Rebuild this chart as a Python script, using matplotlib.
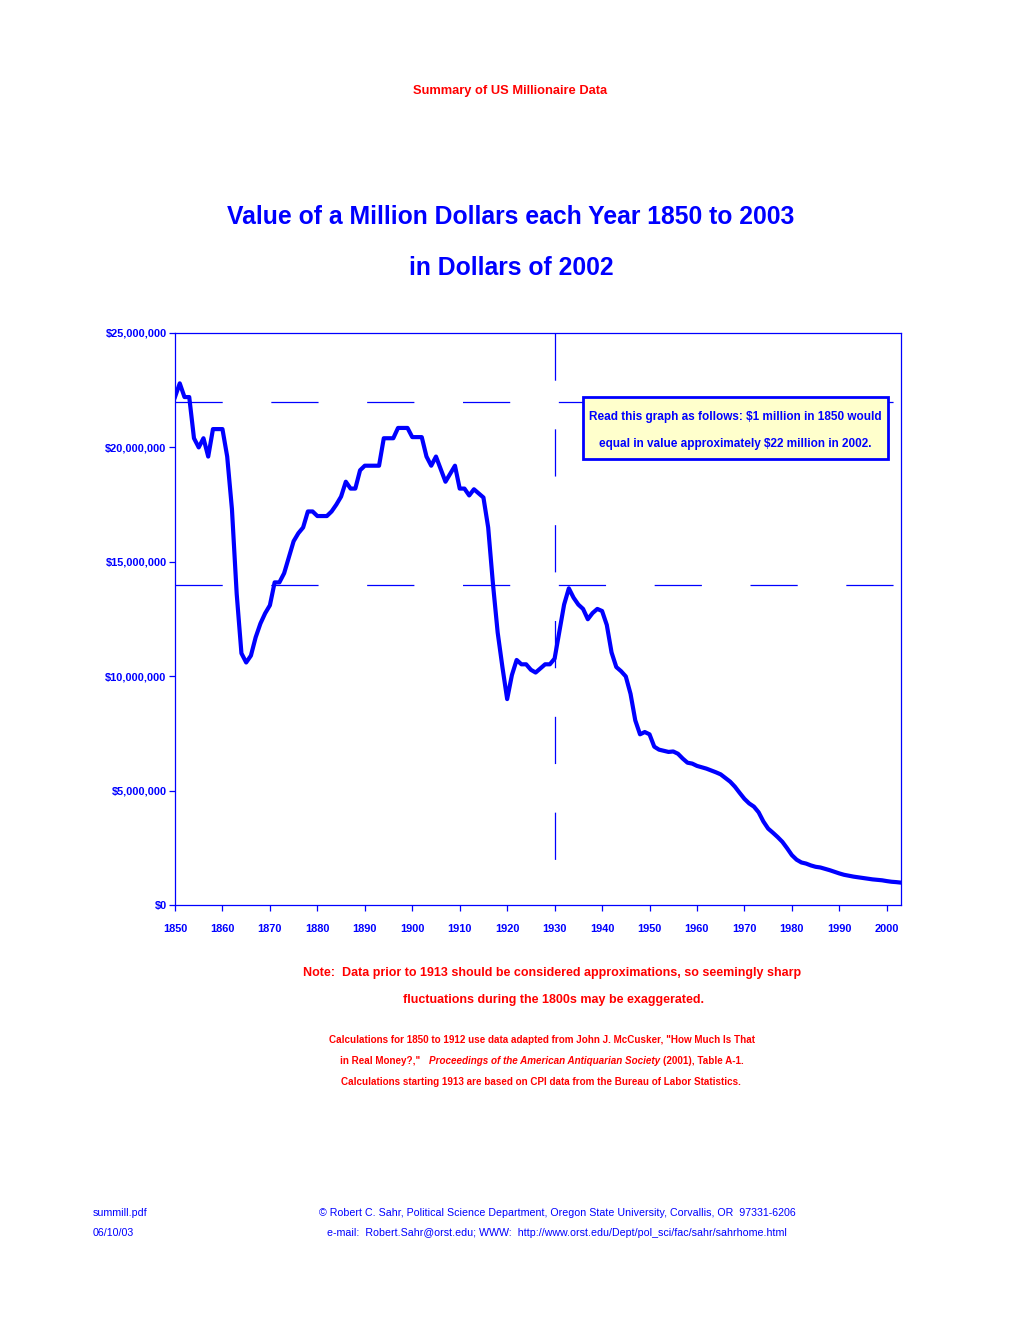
import matplotlib
matplotlib.use('Agg')
import matplotlib.pyplot as plt
from matplotlib.patches import Rectangle
from matplotlib.ticker import FuncFormatter

plt.rcParams['font.family'] = ['Liberation Sans', 'DejaVu Sans']
plt.rcParams['lines.scale_dashes'] = False

BLUE = '#0000FF'
RED = '#FF0000'
W, H = 1020, 1320

# value of $1 million of each year, in millions of 2002 dollars
years_early = list(range(1850, 1913))
values_early = [
    22.2, 22.8, 22.2, 22.2, 20.4, 20.0, 20.4, 19.6, 20.8, 20.8,
    20.8, 19.6, 17.3, 13.6, 11.0, 10.6, 10.9, 11.7, 12.3, 12.75,
    13.1, 14.1, 14.1, 14.5, 15.2, 15.9, 16.25, 16.5, 17.2, 17.2,
    17.0, 17.0, 17.0, 17.2, 17.5, 17.85, 18.5, 18.2, 18.2, 19.0,
    19.2, 19.2, 19.2, 19.2, 20.4, 20.4, 20.4, 20.85, 20.85, 20.85,
    20.45, 20.45, 20.45, 19.6, 19.2, 19.6, 19.05, 18.5, 18.85, 19.2,
    18.2, 18.2, 17.9,
]
years_cpi = list(range(1913, 2004))
values_cpi = [
    18.17, 17.99, 17.81, 16.50, 14.05, 11.91, 10.40,
    9.00, 10.05, 10.71, 10.52, 10.52, 10.28, 10.16, 10.34, 10.52, 10.52,
    10.77, 11.95, 13.13, 13.84, 13.43, 13.13, 12.94, 12.49, 12.76, 12.94,
    12.85, 12.24, 11.04, 10.40, 10.22, 9.99, 9.23, 8.07, 7.46, 7.56,
    7.46, 6.92, 6.79, 6.74, 6.69, 6.71, 6.61, 6.40, 6.22, 6.18,
    6.08, 6.02, 5.96, 5.88, 5.80, 5.71, 5.55, 5.39, 5.17, 4.90,
    4.64, 4.44, 4.30, 4.05, 3.65, 3.34, 3.16, 2.97, 2.76, 2.48,
    2.18, 1.98, 1.86, 1.81, 1.73, 1.67, 1.64, 1.58, 1.52, 1.45,
    1.38, 1.32, 1.28, 1.24, 1.21, 1.18, 1.15, 1.12, 1.10, 1.08,
    1.045, 1.016, 1.00, 0.978,
]
ref_levels = [22e6, 14e6]
ref_year = 1930
x_ticks = list(range(1850, 2001, 10))
y_ticks = [0, 5e6, 10e6, 15e6, 20e6, 25e6]

years = years_early + years_cpi
dollars = [v * 1e6 for v in values_early + values_cpi]


def fx(x):
    return x / W


def fy(y):
    return 1 - y / H


def axx(x):
    return (x - 175) / 726


def axy(y):
    return (905 - y) / 572


fig = plt.figure(figsize=(W / 100, H / 100), dpi=100)
ax = fig.add_axes([fx(175), fy(905), 726 / W, 572 / H])

ax.plot(years, dollars, color=BLUE, lw=3.0, solid_joinstyle='round', zorder=4)

for lev in ref_levels:
    ax.axhline(lev, color=BLUE, lw=0.9, dashes=(34, 35), zorder=2)
ax.axvline(ref_year, ymin=1, ymax=0, color=BLUE, lw=0.9, dashes=(34, 35), zorder=2)

ax.set_xlim(1850, 2003)
ax.set_ylim(0, 25e6)
ax.set_xticks(x_ticks)
ax.set_yticks(y_ticks)
ax.yaxis.set_major_formatter(FuncFormatter(lambda v, p: '${:,.0f}'.format(v)))
for sp in ax.spines.values():
    sp.set_color(BLUE)
    sp.set_linewidth(0.9)
ax.tick_params(axis='both', colors=BLUE, length=4, width=0.9, direction='out')
ax.tick_params(axis='x', pad=10)
ax.tick_params(axis='y', pad=2)
for lab in ax.get_xticklabels() + ax.get_yticklabels():
    lab.set_fontsize(7.9)
    lab.set_fontweight('bold')

# reading hint box
ax.add_patch(Rectangle((axx(583), axy(459)), axx(888) - axx(583), axy(397) - axy(459),
                       transform=ax.transAxes, fc='#FFFFCC', ec=BLUE, lw=2, zorder=5))
ax.text(axx(735), axy(417), 'Read this graph as follows: $1 million in 1850 would',
        transform=ax.transAxes, ha='center', va='center', color=BLUE,
        fontsize=8.5, fontweight='bold', zorder=6)
ax.text(axx(735), axy(444), 'equal in value approximately $22 million in 2002.',
        transform=ax.transAxes, ha='center', va='center', color=BLUE,
        fontsize=8.5, fontweight='bold', zorder=6)

fig.text(fx(510), fy(91), 'Summary of US Millionaire Data', ha='center', va='center',
         color=RED, fontsize=9.3, fontweight='bold')
fig.text(fx(511), fy(217), 'Value of a Million Dollars each Year 1850 to 2003', ha='center',
         va='center', color=BLUE, fontsize=17.8, fontweight='bold')
fig.text(fx(511), fy(268), 'in Dollars of 2002', ha='center', va='center', color=BLUE,
         fontsize=17.8, fontweight='bold')

fig.text(fx(552), fy(973),
         'Note:  Data prior to 1913 should be considered approximations, so seemingly sharp',
         ha='center', va='center', color=RED, fontsize=9, fontweight='bold')
fig.text(fx(554), fy(1000), 'fluctuations during the 1800s may be exaggerated.',
         ha='center', va='center', color=RED, fontsize=9, fontweight='bold')

fig.text(fx(542), fy(1040),
         'Calculations for 1850 to 1912 use data adapted from John J. McCusker, "How Much Is That',
         ha='center', va='center', color=RED, fontsize=7.1, fontweight='bold')
fig.text(fx(541), fy(1082),
         'Calculations starting 1913 are based on CPI data from the Bureau of Labor Statistics.',
         ha='center', va='center', color=RED, fontsize=7.1, fontweight='bold')

# middle line mixes upright and italic pieces
renderer = fig.canvas.get_renderer()
pieces = [('in Real Money?,"', 'normal'),
          ('Proceedings of the American Antiquarian Society', 'italic'),
          ('(2001), Table A-1.', 'normal')]
gaps = [9, 3]
parts = [fig.text(0, fy(1061), s, style=st, ha='left', va='center', color=RED,
                  fontsize=7.1, fontweight='bold') for s, st in pieces]
widths = [t.get_window_extent(renderer).width for t in parts]
x0 = 542 - (sum(widths) + sum(gaps)) / 2
for i, t in enumerate(parts):
    t.set_x(fx(x0))
    x0 += widths[i] + (gaps[i] if i < len(gaps) else 0)

fig.text(fx(93), fy(1213), 'summill.pdf', ha='left', va='center', color=BLUE, fontsize=7.7)
fig.text(fx(93), fy(1233), '06/10/03', ha='left', va='center', color=BLUE, fontsize=7.7)
fig.text(fx(557), fy(1213),
         '\u00a9 Robert C. Sahr, Political Science Department, Oregon State University, Corvallis, OR  97331-6206',
         ha='center', va='center', color=BLUE, fontsize=7.7)
fig.text(fx(557), fy(1233),
         'e-mail:  Robert.Sahr@orst.edu; WWW:  http://www.orst.edu/Dept/pol_sci/fac/sahr/sahrhome.html',
         ha='center', va='center', color=BLUE, fontsize=7.7)

fig.savefig('out.png', dpi=100)
